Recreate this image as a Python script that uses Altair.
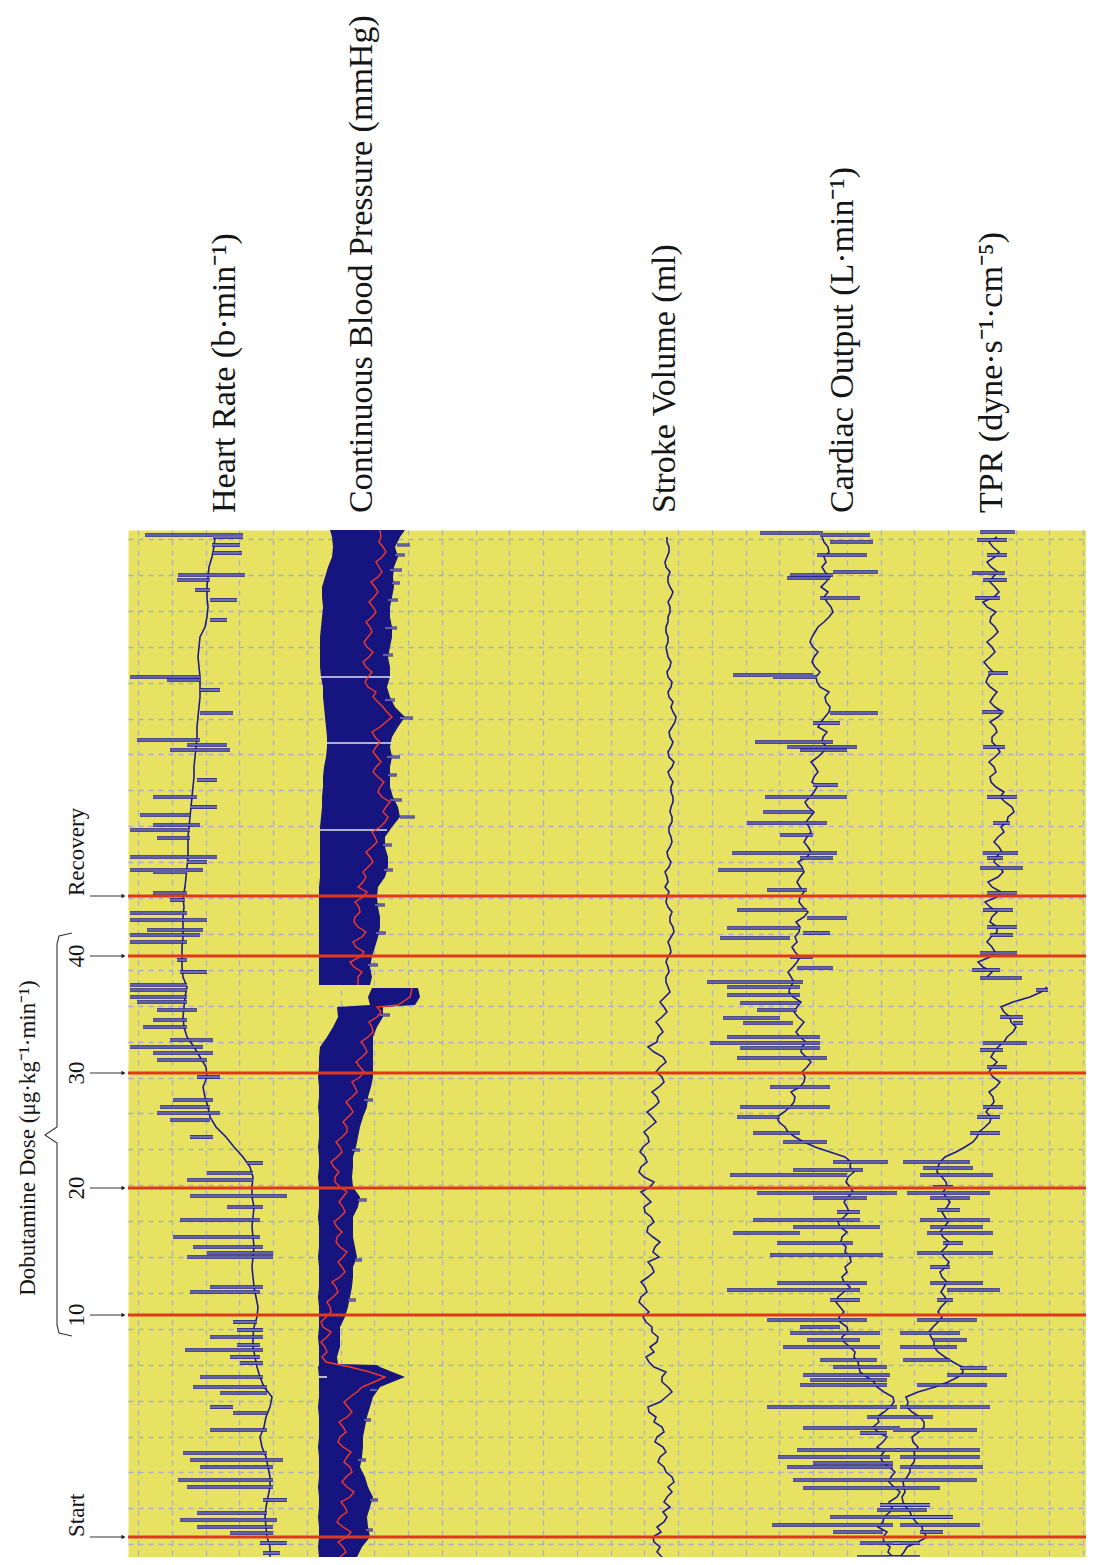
import altair as alt
import pandas as pd

# ---------------- data (read from the recording) ----------------
# paper position of each sample (1 unit = 10 px of chart paper), bottom = 0
V = list(range(103))
V_HALF = [k / 2 for k in range(205)]
V_TPR = [k / 2 for k in range(115)] + [58 + k / 2 for k in range(89)]  # gap at 57.5

hr_base = [14.2,14.2,13.9,13.8,13.7,13.8,14.0,14.2,14.2,14.0,
           13.8,13.4,13.2,13.6,13.8,14.2,14.4,13.6,13.2,12.9,
           12.7,12.5,12.5,12.6,12.9,13.0,12.8,12.6,12.5,12.4,
           12.5,12.6,12.5,12.4,12.5,12.6,12.4,12.4,12.5,12.2,
           11.5,10.6,9.8,8.8,8.2,8.0,7.7,7.5,7.9,7.8,
           7.2,6.6,5.9,5.6,5.5,5.6,5.7,5.9,5.5,5.4,
           5.4,5.4,5.5,5.5,5.5,5.6,5.5,5.7,5.8,5.9,
           6.0,6.0,6.0,6.1,6.2,6.3,6.4,6.5,6.6,6.6,
           6.7,6.8,6.9,6.9,7.0,7.1,7.2,7.2,7.2,7.1,
           7.0,7.1,7.2,7.7,7.9,8.0,7.9,7.9,8.0,8.1,
           8.4,8.6,8.7]

# stroke volume, sampled every half unit
sv = [53.4,52.9,53.2,52.6,52.5,53.3,52.9,53.6,53.9,53.5,54.2,53.6,53.9,54.4,54.0,54.6,54.4,53.8,53.6,53.0,
      53.2,53.8,53.5,52.7,52.9,53.6,53.4,52.6,52.8,52.1,52.0,53.2,53.8,54.4,54.0,53.4,53.4,53.8,52.6,52.1,
      51.8,52.6,52.2,52.9,53.0,52.4,52.4,51.8,51.5,52.1,51.6,51.1,51.3,51.9,51.7,51.3,52.0,52.6,52.4,52.0,
      53.1,52.5,52.7,53.2,52.5,51.9,52.0,52.6,52.3,51.7,51.6,52.3,51.8,51.3,52.2,52.6,51.6,51.1,51.3,51.9,
      51.7,51.2,51.5,52.1,52.0,51.6,52.2,52.8,52.4,51.9,52.6,53.1,52.9,52.4,53.1,53.6,53.4,52.8,53.2,53.8,
      53.5,52.6,52.0,52.9,53.0,53.5,53.2,52.8,53.4,53.9,53.6,53.2,53.7,54.2,
      54.0,53.8,53.8,54.1,54.0,53.8,54.0,54.3,54.2,54.0,54.3,54.6,54.5,54.2,54.2,54.4,54.0,53.8,53.9,54.1,
      53.7,54.0,53.9,53.7,54.1,54.3,54.0,53.9,54.2,54.4,54.3,54.1,54.1,54.4,54.4,54.2,54.3,54.5,54.5,54.3,
      54.3,54.5,54.2,54.0,54.4,54.6,54.1,54.0,54.3,54.5,54.2,54.1,54.4,54.7,54.8,54.5,54.3,54.5,54.1,54.0,
      54.3,54.4,54.0,53.9,54.2,54.3,54.0,53.9,53.8,54.0,54.0,53.8,53.8,54.0,54.0,54.2,54.2,54.0,54.3,54.5,
      54.2,54.0,54.0,54.2,53.8,53.7,53.9,54.1,54.1,53.9,53.9]

# cardiac output, sampled every half unit
co = [76.5,76.0,76.2,75.6,75.5,75.9,75.0,75.5,75.6,76.2,76.4,76.1,76.9,77.2,76.6,76.1,76.3,76.7,76.1,75.5,
      75.2,75.6,74.9,75.5,75.9,75.0,74.5,75.1,74.9,75.6,76.2,76.6,76.5,75.6,74.9,74.6,73.9,73.2,73.1,73.0,
      72.6,72.7,72.2,71.6,71.4,72.0,71.9,71.2,71.1,71.6,71.2,70.8,71.0,71.6,72.2,71.6,71.4,71.9,71.7,72.3,
      72.2,71.7,71.8,71.3,71.4,71.9,71.2,71.0,71.6,72.1,71.9,71.6,72.0,72.5,72.2,71.8,72.0,72.6,72.2,72.3,
      71.7,70.2,68.7,67.6,66.7,66.0,65.7,65.1,64.9,65.6,66.2,66.6,66.7,66.3,67.2,67.6,67.7,67.4,67.9,68.3,
      67.8,67.3,67.4,67.8,67.2,66.8,67.2,67.6,67.0,66.6,66.9,67.3,66.5,66.1,66.2,66.6,66.3,66.0,66.5,66.9,
      67.2,66.7,66.4,66.9,66.7,67.1,67.2,66.8,67.6,68.0,67.5,67.1,67.2,67.6,67.2,66.9,67.2,67.6,67.4,67.0,
      67.9,68.3,68.0,67.6,67.9,68.3,68.1,67.8,68.2,68.6,68.0,67.7,68.2,68.6,68.9,68.4,68.6,69.0,68.7,68.3,
      69.0,69.5,69.9,69.4,69.5,69.9,69.0,69.3,69.7,70.1,70.2,69.8,69.7,70.1,69.2,68.9,68.8,69.2,68.7,68.4,
      68.6,69.0,68.5,68.2,68.4,68.7,69.0,69.6,70.1,70.5,70.3,69.9,69.6,70.0,69.3,69.8,70.2,69.7,69.4,69.8,
      69.6,70.1,70.0,69.6,69.4]

# total peripheral resistance, sampled every half unit (recording gap near 57.5)
tpr = [77.2,77.6,77.9,79.0,79.9,79.5,79.4,78.8,78.4,78.2,77.8,77.5,77.4,77.7,77.6,77.5,77.9,78.2,78.2,78.6,
       78.7,78.6,79.0,78.5,78.4,79.1,79.6,79.6,79.2,78.4,77.9,78.0,77.8,79.0,80.7,82.0,83.0,83.5,83.4,82.5,
       81.7,81.0,80.6,80.6,80.3,80.1,80.5,81.0,81.4,81.0,81.3,81.8,81.7,81.3,81.6,81.9,81.4,81.2,81.8,82.1,
       81.6,81.3,81.8,82.1,81.5,81.2,81.6,82.0,81.7,81.4,81.9,82.2,81.8,81.5,81.9,81.8,81.4,80.9,81.0,81.2,
       81.7,82.8,83.7,84.5,84.9,85.1,85.7,86.2,86.3,85.8,86.2,86.6,86.5,86.1,86.8,87.2,86.5,86.1,86.4,86.9,
       86.3,86.6,87.0,87.6,87.9,88.5,88.8,88.3,88.2,87.6,87.3,88.5,90.2,91.3,91.9,
       85.9,86.4,85.5,85.0,86.2,86.7,86.4,85.9,86.3,86.9,86.9,86.2,86.4,86.9,86.2,85.7,86.9,87.3,86.4,86.0,
       87.0,87.5,87.2,86.6,86.8,87.4,87.1,86.6,87.0,87.6,87.3,87.9,88.0,88.6,88.4,87.7,87.2,87.6,86.8,86.3,
       86.2,86.8,86.6,86.1,86.7,87.2,86.9,86.4,86.4,86.9,86.7,86.2,87.0,87.5,86.7,86.2,86.5,86.9,86.2,85.8,
       86.0,86.5,86.0,85.6,86.2,86.7,86.4,85.9,86.5,87.0,86.7,86.2,86.3,86.8,85.9,85.5,86.6,87.1,86.7,86.2,
       86.5,87.0,86.3,85.9,86.7,87.1,86.5,86.1,86.9]
tpr_break = 57.5

# Continuous blood pressure: pulse band (lo/hi)
bp_v = (list(range(20)) + [19.2, 19.3] + list(range(20, 56)) + [55.2, 56.0, 56.9]
        + [57.2] + list(range(58, 103)) + [102.7])
bp_seg = [0] * 61 + [1] * 47
bp_lo = [19.1,19.0,19.1,19.1,19.0,19.1,19.1,19.0,19.1,19.1,
         19.1,19.0,19.1,19.1,19.1,19.0,19.1,19.1,19.1,19.0,
         19.1,19.1,
         19.1,19.1,19.0,19.1,19.1,19.1,19.0,19.1,19.1,19.1,
         19.0,19.1,19.1,19.1,19.0,19.1,19.1,19.1,19.0,19.1,
         19.1,19.0,19.1,19.1,19.1,19.0,19.1,19.1,19.0,19.1,
         19.1,19.2,19.9,20.5,21.0,20.9,
         24.2,24.0,24.4,
         19.1,19.1,19.1,19.1,19.1,19.1,19.1,19.1,19.1,19.1,19.1,
         19.2,19.2,19.2,19.2,19.2,19.2,19.3,19.4,19.4,19.5,
         19.5,19.6,19.8,19.9,19.9,19.8,19.7,19.6,19.5,19.5,
         19.3,19.2,19.2,19.2,19.2,19.3,19.4,19.5,19.4,19.4,
         19.7,20.0,20.4,20.5,20.4,20.2]
bp_hi = [22.9,23.4,24.2,24.0,23.9,24.2,24.5,24.0,23.7,23.2,
         23.4,23.5,23.5,23.7,23.9,24.2,24.5,25.2,27.7,25.2,
         24.9,21.0,
         20.9,21.2,21.2,21.2,21.7,22.0,22.2,22.4,22.5,22.5,
         22.9,22.7,22.5,22.5,22.5,23.0,23.2,22.5,22.4,22.5,
         22.5,22.8,23.0,23.2,23.5,23.9,24.0,24.3,24.5,24.5,
         24.5,24.5,24.5,24.9,25.5,25.5,
         28.7,29.2,29.0,
         24.2,
         24.4,24.2,24.4,24.7,25.0,25.2,25.2,25.0,24.9,25.0,
         25.7,26.0,26.0,25.7,25.7,26.4,27.2,27.0,26.5,26.2,
         26.2,26.2,26.4,26.2,26.4,27.0,27.7,26.7,26.2,25.9,
         26.2,26.2,26.0,26.2,26.4,26.4,26.2,26.2,26.4,26.6,
         26.5,26.6,27.0,26.7,27.2,27.7]

# mean pressure (red), sampled every half unit
mean_v = ([k / 2 for k in range(111)] + [55.2, 56.0, 56.9]
          + [57.2] + [58 + k / 2 for k in range(89)] + [102.7])
mean_seg = [0] * 114 + [1] * 91
bp_mean = [21.2,21.8,21.5,21.0,21.9,22.3,21.5,20.9,21.2,21.9,21.7,21.3,22.2,22.6,21.9,21.4,21.8,22.4,22.2,21.6,
           21.9,22.3,21.5,21.0,21.2,21.8,21.5,21.1,21.9,22.4,22.0,21.6,22.2,22.9,23.4,24.6,25.7,24.2,22.2,19.8,
           19.4,19.9,19.7,19.3,19.9,20.3,19.5,19.3,19.8,20.3,20.2,19.9,20.5,21.0,20.8,20.4,21.2,21.7,21.4,21.0,
           21.5,21.9,21.2,20.8,20.9,21.4,20.9,20.6,21.2,21.7,21.5,21.1,21.5,21.9,21.2,20.7,20.7,21.1,20.6,20.3,
           20.9,21.4,21.2,20.8,21.4,21.9,21.9,21.5,22.0,22.5,22.2,21.8,22.4,22.9,22.7,22.4,23.2,23.6,23.2,22.8,
           23.4,23.9,23.7,23.3,24.0,24.5,24.4,24.1,24.9,25.3,24.9,
           27.0,28.2,28.4,
           23.0,
           23.0,23.4,22.6,22.2,23.2,23.6,22.8,22.5,23.4,23.8,23.0,22.6,22.7,23.2,23.1,22.7,23.5,23.9,23.0,23.5,
           23.8,23.5,24.0,24.5,24.2,23.8,24.4,24.9,24.7,24.4,25.2,25.7,26.0,25.5,25.8,26.2,25.4,25.0,25.2,25.6,
           25.0,24.5,24.8,25.3,24.9,24.5,24.8,25.2,24.7,24.4,25.2,25.8,26.4,25.9,25.5,25.0,24.5,24.8,24.0,23.7,
           24.0,24.4,23.8,23.5,24.1,24.5,23.9,23.6,24.0,24.4,24.2,23.8,24.4,24.8,24.5,24.1,24.6,25.0,24.7,24.3,
           25.0,25.4,25.1,24.8,25.4,25.8,25.5,25.1,25.3,
           25.2]

# light calibration streaks across the pressure band (v, from, to)
bp_streaks = [(88.0, 19.2, 26.4), (81.4, 19.9, 26.4), (72.7, 19.2, 25.9), (18.0, 19.1, 19.9)]
# light beat tips on the right edge of the band
bp_tips = [(101.2, 26.9, 28.2), (100.2, 26.7, 27.7), (98.7, 26.2, 27.4), (97.4, 26.4, 27.2),
           (95.7, 26.0, 27.0), (92.9, 25.7, 26.9), (90.2, 25.5, 26.5), (85.7, 25.7, 26.7),
           (83.9, 27.2, 28.5), (80.0, 25.9, 27.2), (78.2, 26.0, 26.9), (75.7, 26.2, 27.4),
           (74.0, 27.2, 28.7), (71.2, 25.5, 26.4), (68.7, 25.6, 26.5), (65.2, 24.7, 25.7),
           (62.4, 24.8, 25.8), (59.2, 24.0, 25.0), (54.2, 25.2, 26.2), (45.7, 23.6, 24.5),
           (40.7, 22.4, 23.2), (35.7, 23.0, 23.9), (29.7, 22.7, 23.4), (25.7, 22.0, 22.8),
           (16.7, 24.2, 24.9), (13.7, 23.6, 24.3), (9.7, 23.0, 23.8), (5.7, 24.2, 25.0),
           (2.7, 23.8, 24.5)]

# beat-to-beat excursions (v, from, to)
hr_spikes = [(102.2,1.7,11.5),(102.0,8.5,11.5),(101.2,8.4,11.2),(100.4,8.5,11.4),(98.2,5.0,11.7),
             (97.7,4.9,8.2),(96.7,6.7,8.2),(95.7,8.2,10.9),(93.7,8.2,9.9),(88.0,0.2,7.2),
             (87.7,3.9,7.2),(86.7,7.2,9.2),(84.4,7.2,10.5),(81.7,0.9,7.2),(81.2,5.9,9.9),
             (80.7,4.2,10.2),(77.7,6.9,8.9),(76.0,2.5,6.9),(75.0,6.2,8.9),(74.2,1.2,6.2),
             (73.2,2.5,7.2),(72.7,0.2,6.2),(71.9,2.9,6.2),(70.0,0.2,8.9),(69.5,5.9,7.9),
             (68.7,0.2,7.5),(68.5,2.5,5.9),(66.4,2.5,5.9),(65.7,4.2,5.7),(64.4,0.2,5.9),
             (63.7,0.2,7.9),(62.7,1.9,7.5),(62.2,0.2,7.2),(61.5,0.2,5.9),(59.7,4.9,5.9),
             (58.5,5.2,7.9),(57.2,0.2,5.9),(56.7,0.2,5.9),(56.0,0.2,5.9),(55.5,0.9,5.9),
             (54.7,2.9,6.9),(53.7,2.5,5.9),(53.0,1.5,5.9),(51.7,4.2,8.5),(51.0,0.2,7.5),
             (50.4,2.5,8.5),(49.7,2.9,7.9),(48.0,6.9,9.2),(45.7,4.5,8.5),(45.0,3.2,8.2),
             (44.4,2.9,9.2),(43.7,4.2,8.2),(42.0,6.2,8.5),(39.4,11.9,13.5),(38.4,7.9,12.5),
             (37.7,5.9,12.5),(36.1,6.2,15.9),(35.0,9.9,13.5),(33.7,5.2,13.2),(32.0,4.5,13.2),
             (31.0,6.5,13.5),(30.4,7.9,14.5),(30.0,5.9,14.5),(27.0,8.2,13.5),(26.5,6.2,13.2),
             (23.5,10.5,12.9),(22.7,10.9,13.5),(22.0,8.2,13.5),(21.2,10.9,13.2),(20.7,5.7,13.5),
             (20.0,10.2,13.2),(19.4,11.2,13.5),(18.0,7.2,13.5),(17.0,6.5,13.9),(16.4,9.2,13.9),
             (15.0,8.2,10.5),(14.4,10.5,13.9),(12.7,8.2,13.9),(10.4,5.5,13.9),(9.7,6.2,15.5),
             (9.0,7.2,14.5),(7.7,5.0,14.5),(7.0,5.9,14.5),(5.7,13.5,15.9),(4.4,6.9,13.9),
             (3.7,5.2,14.9),(3.0,6.9,14.5),(2.4,10.2,14.5),(1.4,13.2,15.9),(0.4,13.5,15.2)]

co_spikes = [(102.4,63.2,69.5),(102.2,69.2,74.2),(101.5,70.2,74.5),(100.2,68.9,73.9),(98.5,70.5,75.0),
             (98.2,66.2,70.5),(97.9,65.9,70.2),(95.9,69.2,73.2),(88.2,60.5,68.5),(88.0,64.5,68.9),
             (84.4,70.2,75.0),(83.4,68.5,71.2),(81.5,62.7,70.5),(81.0,65.9,72.9),(80.7,67.2,71.9),
             (77.2,68.5,71.0),(76.0,63.7,71.9),(74.5,63.5,68.5),(73.4,61.9,69.9),(72.2,65.2,68.5),
             (70.4,60.4,70.9),(69.9,67.2,70.5),(68.7,59.0,67.5),(66.7,63.9,67.9),(64.7,60.9,67.9),
             (63.9,67.9,71.9),(62.9,59.9,67.2),(62.4,67.5,70.2),(61.9,59.2,66.2),(60.0,66.2,68.5),
             (58.9,66.9,70.5),(57.5,57.9,67.5),(57.0,59.9,67.2),(56.2,59.9,67.2),(55.4,61.2,67.2),
             (54.7,62.9,66.9),(53.9,59.5,65.2),(53.4,61.5,66.5),(52.0,59.9,69.2),(51.4,58.2,69.2),
             (50.9,61.2,69.2),(49.9,60.9,69.9),(47.0,64.2,70.2),(45.0,61.2,70.2),(44.0,60.9,65.2),
             (42.4,62.5,67.2),(41.5,65.5,69.9),(39.5,70.5,76.0),(38.7,66.5,73.5),(38.2,60.2,71.9),
             (36.4,62.9,76.9),(35.9,68.5,73.9),(34.5,70.9,73.2),(33.7,62.5,73.2),(33.0,66.5,75.2),
             (32.4,60.5,67.2),(31.4,64.9,72.5),(30.2,64.2,75.5),(27.4,64.9,73.9),(26.7,59.9,73.2),
             (25.7,70.2,73.2),(23.7,63.9,73.9),(23.0,67.2,71.2),(22.4,66.2,75.2),(21.7,67.9,73.2),
             (21.0,65.5,75.2),(19.7,69.2,74.9),(19.0,70.5,75.9),(18.2,67.5,76.2),(17.7,68.2,75.9),
             (17.2,67.2,75.9),(15.0,63.9,76.9),(14.0,73.9,77.2),(12.9,67.5,77.2),(12.4,73.2,75.9),
             (10.7,66.9,77.2),(10.0,65.0,76.2),(9.4,68.5,76.5),(9.0,65.9,76.5),(7.7,66.5,77.2),
             (6.9,67.5,77.2),(5.2,75.2,80.2),(4.7,74.9,79.9),(4.0,70.2,82.5),(3.2,64.4,76.5),
             (2.5,70.5,75.5),(1.4,73.2,77.2),(0.0,72.9,77.2)]

tpr_spikes = [(102.5,85.2,88.7),(101.7,84.9,87.9),(100.2,85.9,87.9),(98.4,84.4,87.7),(97.7,85.5,87.9),
              (95.9,84.7,87.2),(88.4,86.0,88.0),(84.5,85.4,87.5),(81.0,85.5,87.7),(76.0,85.9,88.9),
              (73.4,86.5,88.2),(70.4,85.5,89.0),(69.9,85.9,87.5),(68.9,85.2,89.5),(66.4,85.9,88.9),
              (64.7,85.5,88.5),(63.0,85.9,88.9),(62.2,86.2,88.5),(60.4,85.2,88.9),(58.7,84.4,87.2),
              (57.9,85.2,89.4),(56.7,90.8,92.0),(54.0,87.2,89.5),(53.4,88.5,89.5),(51.4,85.5,89.9),
              (50.7,85.2,87.5),(49.0,85.9,87.9),(45.0,85.5,87.5),(44.0,84.9,87.2),(42.4,84.2,87.2),
              (39.5,77.5,84.2),(38.9,79.5,84.5),(38.2,79.2,86.5),(37.0,80.5,82.5),(36.4,77.9,86.2),
              (35.9,80.2,84.2),(34.7,80.9,83.2),(33.7,79.2,86.2),(33.0,80.2,85.5),(32.4,79.9,86.5),
              (31.4,81.5,83.5),(30.4,78.9,86.5),(29.0,80.2,82.2),(27.4,80.2,85.5),(26.7,81.9,87.2),
              (25.7,80.9,82.5),(23.7,78.9,84.9),(22.4,77.2,83.2),(21.7,80.5,83.9),(21.0,77.2,82.9),
              (19.7,77.5,82.2),(18.9,83.2,85.9),(18.2,81.9,87.9),(17.2,78.9,85.9),(15.0,77.2,86.2),
              (14.0,77.2,80.5),(12.7,76.5,84.9),(10.7,76.9,85.2),(10.0,77.2,85.2),(9.0,77.2,85.5),
              (7.7,77.2,84.9),(6.9,77.2,81.2),(5.2,75.2,80.2),(4.0,77.2,82.5),(3.2,77.2,85.2),
              (2.5,79.2,81.5),(1.4,76.5,79.2),(0.0,75.9,79.2)]

# protocol marks
event_names = ["Start", "10", "20", "30", "40", "Recovery"]
event_v = [2.0, 24.2, 36.9, 48.4, 60.1, 66.1]

channel_labels = ["Heart Rate (b·min⁻¹)", "Continuous Blood Pressure (mmHg)",
                  "Stroke Volume (ml)", "Cardiac Output (L·min⁻¹)", "TPR (dyne·s⁻¹·cm⁻⁵)"]
dose_label = "Dobutamine Dose (μg·kg⁻¹·min⁻¹)"

# ---------------- layout / style ----------------
W, H = 958, 1027
X_DOM = [0, 95.8]
Y_DOM = [0, 102.7]
grid_u = [1.0 + 3.375 * k for k in range(29)]
grid_v = [1.28 + 3.59 * k for k in range(29)]
label_u = [10.7, 24.4, 54.7, 72.5, 87.4]
label_v = 104.4
left_text_u = -4.4
arrow_u = (-3.8, -0.55)
head_u = -0.45
dose_u, dose_v = -9.3, 41.9
bracket = [(-5.6, 62.4), (-6.9, 62.1), (-7.1, 61.3), (-7.1, 43.0), (-8.3, 42.2),
           (-7.1, 41.4), (-7.1, 23.2), (-6.9, 22.4), (-5.6, 22.1)]

YELLOW = "#e8e262"
NAVY = "#1e1c8e"
BAND = "#16147f"
CORE = "#a6a1c9"
RED = "#e1381c"
RED_MEAN = "#f23a2b"
GRID = "#a5a7d9"
SERIF = "Liberation Serif"

XS = alt.Scale(domain=X_DOM, nice=False, zero=False)
YS = alt.Scale(domain=Y_DOM, nice=False, zero=False)
XAX = alt.Axis(values=grid_u, grid=True, labels=False, ticks=False, domain=False, title="",
               gridColor=GRID, gridDash=[5, 5], gridWidth=1.3, gridOpacity=0.9)
YAX = alt.Axis(values=grid_v, grid=True, labels=False, ticks=False, domain=False, title="",
               gridColor=GRID, gridDash=[5, 5], gridWidth=1.3, gridOpacity=0.9)


def X(f):
    return alt.X(f, type="quantitative", scale=XS, axis=XAX)


def Y(f):
    return alt.Y(f, type="quantitative", scale=YS, axis=YAX)


# ---------------- tables ----------------
bp_df = pd.DataFrame({"v": bp_v, "lo": bp_lo, "hi": bp_hi, "seg": bp_seg})
mean_df = pd.DataFrame({"v": mean_v, "mean": bp_mean, "seg": mean_seg})

rows = []
for v, x in zip(V, hr_base):
    rows.append({"key": "hr", "v": v, "x": x})
for v, x in zip(V_HALF, sv):
    rows.append({"key": "sv", "v": v, "x": x})
for v, x in zip(V_HALF, co):
    rows.append({"key": "co", "v": v, "x": x})
for v, x in zip(V_TPR, tpr):
    rows.append({"key": "tpr_a" if v < tpr_break else "tpr_b", "v": v, "x": x})
trace_df = pd.DataFrame(rows)

spike_df = pd.DataFrame(hr_spikes + co_spikes + tpr_spikes, columns=["v", "a", "b"])
tips_df = pd.DataFrame(bp_tips, columns=["v", "a", "b"])
streak_df = pd.DataFrame(bp_streaks, columns=["v", "a", "b"])
event_df = pd.DataFrame({"name": event_names, "v": event_v,
                         "a": arrow_u[0], "b": arrow_u[1], "h": head_u, "t": left_text_u})
label_df = pd.DataFrame({"text": channel_labels, "u": label_u, "v": label_v})
bracket_df = pd.DataFrame({"u": [p[0] for p in bracket], "v": [p[1] for p in bracket],
                           "i": list(range(len(bracket)))})
dose_df = pd.DataFrame({"text": [dose_label], "u": [dose_u], "v": [dose_v]})

# ---------------- layers ----------------
band = alt.Chart(bp_df).mark_area(orient="horizontal", color=BAND, opacity=1).encode(
    x=X("lo"), x2=alt.X2("hi"), y=Y("v"), detail="seg:N")

streaks = alt.Chart(streak_df).mark_rule(color="#e4e0ee", strokeWidth=1.6).encode(
    x=X("a"), x2=alt.X2("b"), y=Y("v"))

tips_out = alt.Chart(tips_df).mark_rule(color=NAVY, strokeWidth=3.0).encode(
    x=X("a"), x2=alt.X2("b"), y=Y("v"))
tips_in = alt.Chart(tips_df).mark_rule(color=CORE, strokeWidth=1.0).encode(
    x=X("a"), x2=alt.X2("b"), y=Y("v"))

mean = alt.Chart(mean_df).mark_line(color=RED_MEAN, strokeWidth=1.4).encode(
    x=X("mean"), y=Y("v"), detail="seg:N", order="v:Q")

traces = alt.Chart(trace_df).mark_line(color=NAVY, strokeWidth=1.6).encode(
    x=X("x"), y=Y("v"), detail="key:N", order="v:Q")

sp_out = alt.Chart(spike_df).mark_rule(color=NAVY, strokeWidth=3.7).encode(
    x=X("a"), x2=alt.X2("b"), y=Y("v"))
sp_in = alt.Chart(spike_df).mark_rule(color=CORE, strokeWidth=1.2).encode(
    x=X("a"), x2=alt.X2("b"), y=Y("v"))

events = alt.Chart(event_df).mark_rule(color=RED, strokeWidth=3).encode(y=Y("v"))

arrows = alt.Chart(event_df).mark_rule(color="#333333", strokeWidth=1).encode(
    x=X("a"), x2=alt.X2("b"), y=Y("v"))
heads = alt.Chart(event_df).mark_point(shape="triangle-right", filled=True, size=22,
                                       color="#222222", opacity=1).encode(x=X("h"), y=Y("v"))

ends_txt = alt.Chart(event_df).transform_filter(
    "datum.name == 'Start' || datum.name == 'Recovery'"
).mark_text(angle=270, align="left", baseline="alphabetic", font=SERIF, fontSize=23,
            color="#151515").encode(x=X("t"), y=Y("v"), text="name:N")
dose_txt = alt.Chart(event_df).transform_filter(
    "datum.name != 'Start' && datum.name != 'Recovery'"
).mark_text(angle=270, align="center", baseline="alphabetic", font=SERIF, fontSize=23,
            color="#151515").encode(x=X("t"), y=Y("v"), text="name:N")

brace = alt.Chart(bracket_df).mark_line(color="#333333", strokeWidth=1.1).encode(
    x=X("u"), y=Y("v"), order="i:Q")

dose_title = alt.Chart(dose_df).mark_text(angle=270, align="center", baseline="alphabetic",
                                          font=SERIF, fontSize=23, color="#151515").encode(
    x=X("u"), y=Y("v"), text="text:N")

labels = alt.Chart(label_df).mark_text(angle=270, align="left", baseline="alphabetic",
                                       font=SERIF, fontSize=34, color="#151515").encode(
    x=X("u"), y=Y("v"), text="text:N")

chart = alt.layer(
    band, streaks, tips_out, tips_in, mean, traces, sp_out, sp_in, events,
    arrows, heads, ends_txt, dose_txt, brace, dose_title, labels
).properties(
    width=W, height=H,
    padding={"left": 120, "top": 522, "right": 0, "bottom": 0},
    autosize=alt.AutoSizeParams(type="none"),
).configure_view(fill=YELLOW, stroke="transparent")

chart.save("out.html", embed_options={"renderer": "svg", "actions": False})
